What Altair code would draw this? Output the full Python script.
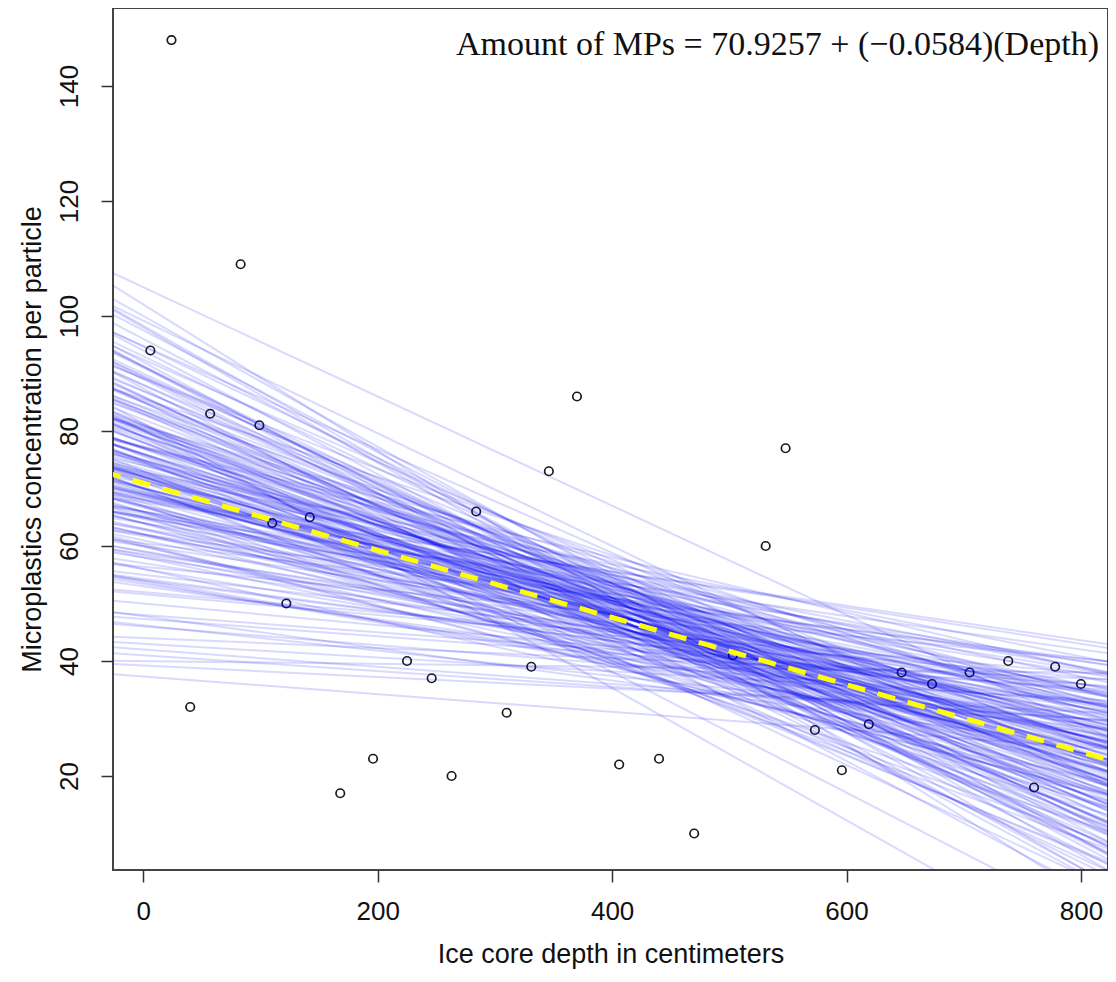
import altair as alt
import pandas as pd

# Observed points (ice core depth in cm, microplastics count)
depth = [6, 24, 40, 57, 83, 99, 110, 122, 142, 168, 196, 225, 246, 263, 284, 310, 331, 346, 370,
         406, 440, 470, 503, 531, 548, 573, 596, 619, 647, 673, 705, 738, 760, 778, 800]
mps = [94, 148, 32, 83, 109, 81, 64, 50, 65, 17, 23, 40, 37, 20, 66, 31, 39, 73, 86,
       22, 23, 10, 41, 60, 77, 28, 21, 29, 38, 36, 38, 40, 18, 39, 36]

# Fitted regression line
fit_intercept = 70.9257
fit_slope = -0.0584
equation = "Amount of MPs = 70.9257 + (\u22120.0584)(Depth)"

# Bootstrap regression lines, read as value at depth 0 and value at depth 800
boot_at_0 = [39.2, 43.0, 47.3, 51.6, 56.4, 46.2, 60.5, 54.3, 65.2, 58.6, 53.4, 64.9, 61.7, 59.1, 68.5,
             65.0, 58.4, 62.8, 68.2, 65.6, 62.1, 72.5, 65.9, 69.3, 64.7, 72.2, 68.6, 64.0, 67.0, 71.4,
             68.8, 77.3, 66.7, 71.7, 69.1, 74.5, 72.0, 69.4, 73.4, 66.8, 72.2, 77.2, 69.6, 76.0, 72.5,
             74.9, 80.3, 72.7, 77.1, 71.6, 76.0, 80.4, 75.8, 79.2, 74.7, 79.1, 83.5, 76.9, 82.8, 80.2,
             75.6, 83.4, 81.3, 89.1, 81.0, 85.8, 89.6, 85.9, 91.2, 85.0, 91.3, 97.5, 91.2, 98.3, 81.3,
             80.1, 78.9, 105.0, 99.2, 37.3, 41.0, 62.0, 68.0,
             59.9, 74.8, 63.9, 80.6, 67.5, 79.7, 71.0, 84.2, 72.1, 85.3, 78.0, 86.9, 83.5, 92.4, 80.1,
             94.7, 89.4, 87.4, 72.8, 53.7, 67.6, 47.8, 77.2, 60.3, 80.8, 65.9, 85.6, 69.9, 89.2, 74.7,
             94.8, 68.9, 70.0, 70.1, 70.2, 74.3, 74.4, 78.5, 71.4, 72.0,
             58, 59, 60, 61, 62, 63, 63, 64, 65, 66, 66, 67, 68, 68, 69, 70, 70, 71, 72, 72, 73, 73,
             74, 75, 75, 76, 76, 77, 78, 78, 79, 79, 80, 80, 81, 81, 82, 83, 83, 84, 85, 85, 86, 87,
             88, 88, 89, 90, 91, 92, 93, 94, 96, 98, 100, 102,
             50, 52, 53, 54, 55, 56, 57, 48, 46, 44, 42, 40,
             64, 66, 69, 71, 74, 77, 62, 60, 58, 56, 54, 65, 67, 70, 73]
boot_at_800 = [31.2, 33.4, 35.3, 37.2, 40.4, 28.6, 40.5, 32.7, 42.0, 34.6, 27.8, 38.5, 33.7, 31.3, 38.9,
               34.6, 27.2, 30.8, 35.4, 32.0, 27.7, 37.3, 29.9, 32.5, 27.1, 33.8, 29.4, 24.0, 27.0, 30.6,
               27.2, 34.9, 23.5, 28.5, 25.1, 29.7, 26.3, 23.0, 27.0, 19.6, 24.2, 29.2, 20.8, 26.4, 22.1,
               23.7, 28.3, 19.9, 23.5, 17.2, 20.8, 24.4, 19.0, 21.6, 16.3, 19.9, 23.5, 16.1, 20.4, 17.0,
               11.6, 17.8, 14.1, 20.3, 10.6, 13.8, 16.0, 9.9, 12.8, 5.0, 8.9, 12.7, 3.2, 6.3, -10.7,
               -3.9, 2.9, 29.0, 20.8, 25.0, 30.0, 40.0, 43.0,
               23.0, 33.2, 18.3, 31.8, 17.1, 26.9, 15.8, 26.6, 12.9, 23.7, 13.2, 20.5, 13.9, 21.2, 5.7,
               17.1, 8.6, 1.0, 40.8, 25.7, 43.6, 25.4, 38.8, 17.9, 33.6, 14.7, 31.2, 9.1, 26.0, 6.7,
               22.8, 32.9, 30.0, 26.1, 22.2, 22.3, 18.4, 18.5, 25.0, 22.4,
               33, 29, 36, 27, 31, 35, 24, 28, 32, 26, 35, 29, 24, 33, 27, 30, 21, 25, 29, 18, 23, 32,
               26, 22, 29, 19, 27, 24, 15, 21, 28, 12, 22, 17, 25, 14, 20, 10, 24, 17, 13, 21, 9, 16,
               12, 19, 7, 14, 10, 4, 15, 8, 11, 4, 9, 0,
               35, 38, 30, 33, 36, 29, 32, 36, 33, 37, 30, 38,
               38, 40, 36, 39, 35, 33, 22, 18, 24, 20, 26, 16, 12, 10, 7]

x_ticks = [0, 200, 400, 600, 800]
y_ticks = [20, 40, 60, 80, 100, 120, 140]
x_domain = [-25.9, 823.1]
y_domain = [3.65, 153.57]
x_ends = [-60, 880]

points_df = pd.DataFrame({"depth": depth, "mps": mps})

boot_rows = []
for i, (a, b) in enumerate(zip(boot_at_0, boot_at_800)):
    s = (b - a) / 800.0
    for xe in x_ends:
        boot_rows.append({"id": i, "depth": xe, "mps": a + s * xe})
boot_df = pd.DataFrame(boot_rows)

fit_df = pd.DataFrame({"depth": x_ends,
                       "mps": [fit_intercept + fit_slope * xe for xe in x_ends]})
eq_df = pd.DataFrame({"label": [equation]})

x_enc = alt.X("depth:Q",
              scale=alt.Scale(domain=x_domain, nice=False, zero=False),
              axis=alt.Axis(values=x_ticks, title="Ice core depth in centimeters",
                            labelBaseline="top", labelPadding=16,
                            titleY=92, titleBaseline="alphabetic"))
y_enc = alt.Y("mps:Q",
              scale=alt.Scale(domain=y_domain, nice=False, zero=False),
              axis=alt.Axis(values=y_ticks, title="Microplastics concentration per particle",
                            labelAngle=270, labelAlign="center", labelBaseline="bottom",
                            labelPadding=19,
                            titleX=-73, titleY=431, titleAngle=270, titleAlign="center",
                            titleBaseline="alphabetic"))

points = alt.Chart(points_df).mark_point(
    shape="circle", filled=False, size=72, color="#1a1a1a", strokeWidth=1.7, opacity=1
).encode(x=x_enc, y=y_enc)

boot = alt.Chart(boot_df).mark_line(
    clip=True, color="#0000f0", opacity=0.15, strokeWidth=2
).encode(x=x_enc, y=y_enc, detail="id:N")

fit = alt.Chart(fit_df).mark_line(
    clip=True, color="#ffff00", strokeWidth=5, strokeDash=[18, 13]
).encode(x=x_enc, y=y_enc)

eq_text = alt.Chart(eq_df).mark_text(
    align="right", baseline="alphabetic", font="Liberation Serif", fontSize=34, color="#111111"
).encode(x=alt.value(986), y=alt.value(47), text="label:N")

chart = alt.layer(points, boot, fit, eq_text).properties(
    width=995, height=862,
    autosize=alt.AutoSizeParams(type="none"),
    padding={"left": 105, "top": 0, "right": 0, "bottom": 100},
).configure_view(
    stroke="#444444", strokeWidth=2
).configure_axis(
    domain=False, grid=False, ticks=True, tickSize=12, tickColor="#333333", tickWidth=1.5,
    labelFont="Liberation Sans", labelFontSize=26, labelColor="#111111",
    titleFont="Liberation Sans", titleFontSize=27, titleFontWeight="normal", titleColor="#111111",
)

chart.save("out.html", embed_options={"renderer": "svg", "actions": False})
